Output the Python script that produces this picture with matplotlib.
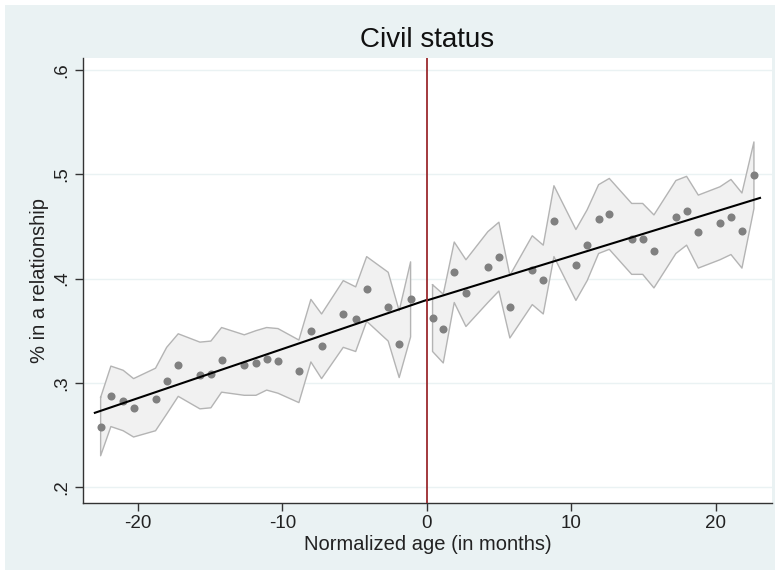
import matplotlib
matplotlib.use("Agg")
import matplotlib.pyplot as plt
from matplotlib.patches import Rectangle
import numpy as np

plt.rcParams['font.family'] = ['Liberation Sans', 'DejaVu Sans']

# binned means left of the cutoff
age_left = [-22.58, -21.87, -21.02, -20.30, -18.78, -18.01, -17.21, -15.71, -14.95, -14.21,
            -12.64, -11.83, -11.09, -10.31, -8.86, -8.03, -7.29, -5.79, -4.93, -4.17,
            -2.68, -1.92, -1.13]
share_left = [0.258, 0.287, 0.283, 0.276, 0.284, 0.302, 0.317, 0.307, 0.308, 0.322,
              0.317, 0.319, 0.323, 0.321, 0.311, 0.350, 0.335, 0.366, 0.361, 0.390,
              0.373, 0.337, 0.380]
halfw_left = [0.028, 0.029, 0.029, 0.028, 0.030, 0.032, 0.030, 0.032, 0.032, 0.031,
              0.029, 0.031, 0.030, 0.031, 0.030, 0.030, 0.031, 0.032, 0.031, 0.031,
              0.033, 0.032, 0.036]

# binned means right of the cutoff
age_right = [0.39, 1.13, 1.89, 2.70, 4.22, 4.98, 5.74, 7.29, 8.05, 8.79,
             10.31, 11.09, 11.88, 12.62, 14.17, 14.93, 15.71, 17.23, 17.97, 18.78,
             20.28, 21.04, 21.80, 22.63]
share_right = [0.362, 0.352, 0.406, 0.386, 0.411, 0.421, 0.373, 0.408, 0.399, 0.455,
               0.413, 0.432, 0.457, 0.462, 0.438, 0.438, 0.426, 0.459, 0.465, 0.445,
               0.453, 0.459, 0.446, 0.499]
halfw_right = [0.032, 0.033, 0.029, 0.032, 0.034, 0.033, 0.030, 0.033, 0.033, 0.034,
               0.034, 0.034, 0.033, 0.034, 0.034, 0.034, 0.035, 0.035, 0.033, 0.035,
               0.035, 0.036, 0.036, 0.032]

# linear fits on each side (end points)
fit_x_left = [-22.98, 0.0]
fit_y_left = [0.2712, 0.3795]
fit_x_right = [0.0, 23.05]
fit_y_right = [0.379, 0.4773]

xticks = [-20, -10, 0, 10, 20]
yticks = [0.2, 0.3, 0.4, 0.5, 0.6]
ytick_labels = ['.2', '.3', '.4', '.5', '.6']

bg = '#eaf2f3'
band_fill = '#f1f1f1'
band_edge = '#b4b4b4'
dot_color = '#808080'
cut_color = '#9b2a2e'

fig = plt.figure(figsize=(7.8, 5.75), dpi=100)
fig.patch.set_facecolor('white')
# light bluish graph region with a thin white margin
fig.patches.append(Rectangle((5 / 780, 5 / 575), 770 / 780, 565 / 575,
                             transform=fig.transFigure, facecolor=bg,
                             edgecolor='none', zorder=-10))

ax = fig.add_axes([83 / 780, 72 / 575, 689 / 780, 445 / 575])
ax.set_zorder(5)
ax.set_facecolor('white')

for xs, ys, hw in [(age_left, share_left, halfw_left), (age_right, share_right, halfw_right)]:
    xs = np.array(xs)
    ys = np.array(ys)
    hw = np.array(hw)
    lo = ys - hw
    hi = ys + hw
    ax.fill_between(xs, lo, hi, facecolor=band_fill, edgecolor='none', zorder=1)
    ax.plot(np.r_[xs, xs[::-1], xs[0]], np.r_[hi, lo[::-1], hi[0]],
            color=band_edge, lw=1.0, zorder=2)
    ax.plot(xs, ys, 'o', color=dot_color, markersize=5.8, markeredgewidth=0, zorder=3)

ax.plot(fit_x_left, fit_y_left, color='black', lw=1.5, zorder=4)
ax.plot(fit_x_right, fit_y_right, color='black', lw=1.5, zorder=4)
ax.axvline(0, color=cut_color, lw=1.3, zorder=5)

ax.set_xlim(-23.8, 23.88)
ax.set_ylim(0.1847, 0.6115)
ax.set_xticks(xticks)
ax.set_xticklabels([str(t) for t in xticks], fontsize=13.5, color='#222222')
ax.set_yticks(yticks)
ax.set_yticklabels(ytick_labels, fontsize=13.5, rotation=90, va='center', color='#222222')
ax.grid(axis='y', color=bg, lw=1.0, zorder=0)
ax.set_axisbelow(True)

for side in ['top', 'right']:
    ax.spines[side].set_visible(False)
for side in ['left', 'bottom']:
    ax.spines[side].set_color('#333333')
    ax.spines[side].set_linewidth(1.0)
ax.tick_params(axis='both', direction='out', length=6, width=1.0, color='#333333', pad=3)

fig.text(427.5 / 780, 1 - 40 / 575, 'Civil status', ha='center', va='center',
         fontsize=20, color='#111111')
fig.text(427.5 / 780, 1 - 544 / 575, 'Normalized age (in months)', ha='center',
         va='center', fontsize=14.5, color='#222222')
fig.text(40 / 780, 1 - 280 / 575, '% in a relationship', ha='center', va='center',
         rotation=90, fontsize=14.5, color='#222222')

fig.savefig('out.png', dpi=100, facecolor=fig.get_facecolor())
